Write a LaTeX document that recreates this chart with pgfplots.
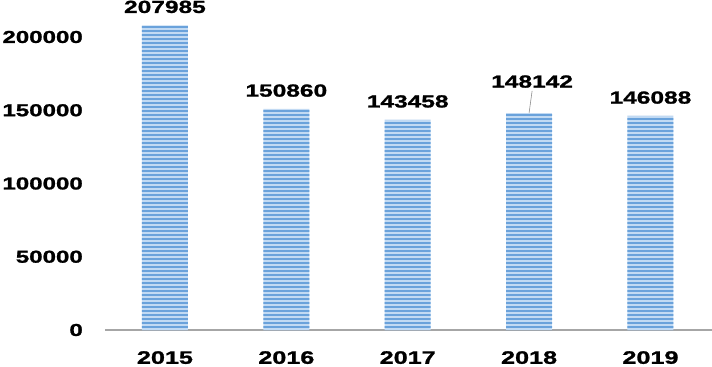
\documentclass[border=0pt]{standalone}
\usepackage{fontspec}
\setmainfont{Liberation Sans}[FakeStretch=1.4, BoldFeatures={FakeBold=1.3}]
\usepackage{pgfplots}
\pgfplotsset{compat=1.18}
\usetikzlibrary{patterns.meta}
\definecolor{barfill}{HTML}{C2DAF3}
\definecolor{barstripe}{HTML}{6AA2DB}
\pgfplotsset{/pgf/number format/fixed, /pgf/number format/1000 sep={}, /pgf/number format/assume math mode=true}
\begin{document}
\begin{tikzpicture}
\begin{axis}[at={(0,0)}, anchor=south west, scale only axis,
  width=607bp, height=322.3bp,
  xmin=-0.494, xmax=4.507, ymin=0, ymax=220000,
  axis x line=bottom, axis y line=left,
  y axis line style={draw=none},
  x axis line style={draw=black!35, line width=1.5bp, -},
  major tick length=0pt,
  xtick={0,1,2,3,4}, xticklabels={2015,2016,2017,2018,2019},
  ytick={0,50000,100000,150000,200000},
  scaled y ticks=false,
  xticklabel style={font=\bfseries\fontsize{18bp}{21bp}\selectfont, anchor=north, inner sep=0pt, yshift=-21bp},
  yticklabel style={font=\bfseries\fontsize{17.2bp}{20bp}\selectfont, anchor=east, inner sep=0pt, xshift=-22bp},
  clip=false,
  barsty/.style={ybar, bar width=46bp, bar shift=0pt, draw=none, fill=barfill,
    nodes near coords,
    nodes near coords style={font=\bfseries\fontsize{17.5bp}{20bp}\selectfont, anchor=south, inner sep=0pt, text=black}},
  stripesty/.style={ybar, bar width=46bp, bar shift=0pt, draw=none,
    pattern={Lines[angle=0,distance=4bp,line width=1.6bp]}, pattern color=barstripe, forget plot},
]
\addplot[barsty, nodes near coords style={yshift=12bp}] coordinates {(0,207985) (1,150860) (2,143458) (4,146088)};
\addplot[barsty, nodes near coords style={yshift=25bp, xshift=3bp}] coordinates {(3,148142)};
\addplot[stripesty] coordinates {(0,207985) (1,150860) (2,143458) (3,148142) (4,146088)};
\draw[black!45, line width=0.6bp] (axis cs:3,148142) -- ++(3bp,22bp);
\end{axis}
\pgfresetboundingbox
\path (-105bp,-37bp) rectangle (607bp,330bp);
\end{tikzpicture}
\end{document}
